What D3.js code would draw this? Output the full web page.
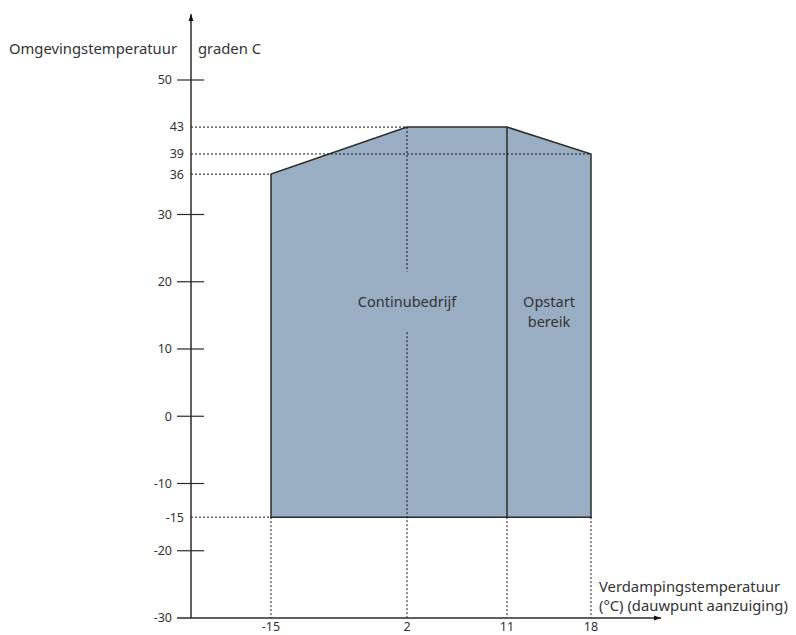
<!DOCTYPE html>
<html lang="en">
<head>
    <meta charset="UTF-8">
    <title>Werkgebied</title>
    <style>
        body {
            background-color: #ffffff;
            margin: 0;
            overflow: hidden;
        }
        svg text {
            font-family: "Noto Sans", "Open Sans", sans-serif;
            fill: #333;
        }
        .tick-label { font-size: 12.5px; }
        .axis-title { font-size: 14.8px; }
        .zone-label { font-size: 14.5px; }
    </style>
</head>
<body>
    <svg id="chart" width="796" height="635"></svg>

    <script src="https://d3js.org/d3.v7.min.js"></script>
    <script>
        // Envelope (verdampingstemperatuur, omgevingstemperatuur)
        const evapTemp = [-15, -15, 2, 11, 18, 18];
        const ambTemp = [-15, 36, 43, 43, 39, -15];

        const xTicks = [-15, 2, 11, 18];
        const yMajorTicks = [50, 30, 20, 10, 0, -10, -20];
        const yRefTicks = [43, 39, 36, -15];
        const yMin = -30;
        const startLimit = 11;   // boundary continubedrijf / opstart bereik

        const svg = d3.select("#chart");

        const axisX = 191, axisY = 618;

        // x axis is not linear in the original, so use a piecewise scale
        const x = d3.scaleLinear()
            .domain(xTicks)
            .range([271, 407, 507, 591]);

        const y = d3.scaleLinear()
            .domain([yMin, 50])
            .range([axisY, 80]);

        const ink = "#2b2b2b";

        // filled envelope
        const pts = evapTemp.map((d, i) => [x(d), y(ambTemp[i])]);
        svg.append("path")
            .attr("d", d3.line()(pts) + "Z")
            .attr("fill", "#9aaec3")
            .attr("stroke", ink)
            .attr("stroke-width", 1.5)
            .attr("stroke-linejoin", "miter");

        // divider opstart bereik
        svg.append("line")
            .attr("x1", x(startLimit)).attr("x2", x(startLimit))
            .attr("y1", y(43)).attr("y2", y(-15))
            .attr("stroke", ink)
            .attr("stroke-width", 1.5);

        const dotted = (x1, y1, x2, y2) => svg.append("line")
            .attr("x1", x1).attr("y1", y1).attr("x2", x2).attr("y2", y2)
            .attr("stroke", "#111")
            .attr("stroke-width", 1)
            .attr("stroke-dasharray", "2,2");

        // horizontal reference lines
        dotted(axisX, y(43), x(2), y(43));
        dotted(axisX, y(39), x(18), y(39));
        dotted(axisX, y(36), x(-15), y(36));
        dotted(axisX, y(-15), x(-15), y(-15));

        // vertical reference lines
        dotted(x(-15), y(-15), x(-15), axisY);
        dotted(x(2), y(43), x(2), y(21.5));
        dotted(x(2), y(12.5), x(2), axisY);
        dotted(x(11), y(-15), x(11), axisY);
        dotted(x(18), y(-15), x(18), axisY);

        // arrow marker
        svg.append("defs").append("marker")
            .attr("id", "arrow")
            .attr("viewBox", "0 0 10 10")
            .attr("refX", 10).attr("refY", 5)
            .attr("markerWidth", 7).attr("markerHeight", 7)
            .attr("markerUnits", "userSpaceOnUse")
            .attr("orient", "auto")
            .append("path")
            .attr("d", "M0,1.5 L10,5 L0,8.5 Z")
            .attr("fill", "#111");

        // axes
        svg.append("line")
            .attr("x1", axisX).attr("y1", axisY)
            .attr("x2", axisX).attr("y2", 14)
            .attr("stroke", ink).attr("stroke-width", 1.5)
            .attr("marker-end", "url(#arrow)");

        svg.append("line")
            .attr("x1", 177).attr("y1", axisY)
            .attr("x2", 661).attr("y2", axisY)
            .attr("stroke", ink).attr("stroke-width", 1.5)
            .attr("marker-end", "url(#arrow)");

        // y tick marks crossing the axis
        svg.selectAll(".ytick")
            .data(yMajorTicks)
            .join("line")
            .attr("class", "ytick")
            .attr("x1", axisX - 14).attr("x2", axisX + 13)
            .attr("y1", d => y(d)).attr("y2", d => y(d))
            .attr("stroke", ink).attr("stroke-width", 1.2);

        // y tick labels
        svg.selectAll(".ylab-major")
            .data(yMajorTicks.concat([yMin]))
            .join("text")
            .attr("class", "tick-label")
            .attr("x", axisX - 19)
            .attr("y", d => y(d))
            .attr("dy", "0.35em")
            .attr("text-anchor", "end")
            .text(d => d);

        svg.selectAll(".ylab-ref")
            .data(yRefTicks)
            .join("text")
            .attr("class", "tick-label")
            .attr("x", axisX - 7)
            .attr("y", d => y(d))
            .attr("dy", "0.35em")
            .attr("text-anchor", "end")
            .text(d => d);

        // x tick labels
        svg.selectAll(".xlab")
            .data(xTicks)
            .join("text")
            .attr("class", "tick-label")
            .attr("x", d => x(d))
            .attr("y", 631)
            .attr("text-anchor", "middle")
            .text(d => d);

        // axis titles
        svg.append("text")
            .attr("class", "axis-title")
            .attr("x", 177).attr("y", 54)
            .attr("text-anchor", "end")
            .text("Omgevingstemperatuur");

        svg.append("text")
            .attr("class", "axis-title")
            .attr("x", 198).attr("y", 54)
            .text("graden C");

        svg.append("text")
            .attr("class", "axis-title")
            .attr("x", 599).attr("y", 592)
            .text("Verdampingstemperatuur");

        svg.append("text")
            .attr("class", "axis-title")
            .attr("x", 599).attr("y", 611)
            .text("(°C) (dauwpunt aanzuiging)");

        // zone labels
        svg.append("text")
            .attr("class", "zone-label")
            .attr("x", x(2)).attr("y", y(17))
            .attr("dy", "0.35em")
            .attr("text-anchor", "middle")
            .text("Continubedrijf");

        const opstart = svg.append("text")
            .attr("class", "zone-label")
            .attr("x", (x(11) + x(18)) / 2)
            .attr("y", y(16.3))
            .attr("text-anchor", "middle");
        opstart.append("tspan").text("Opstart");
        opstart.append("tspan")
            .attr("x", (x(11) + x(18)) / 2)
            .attr("dy", 20)
            .text("bereik");
    </script>
</body>
</html>
